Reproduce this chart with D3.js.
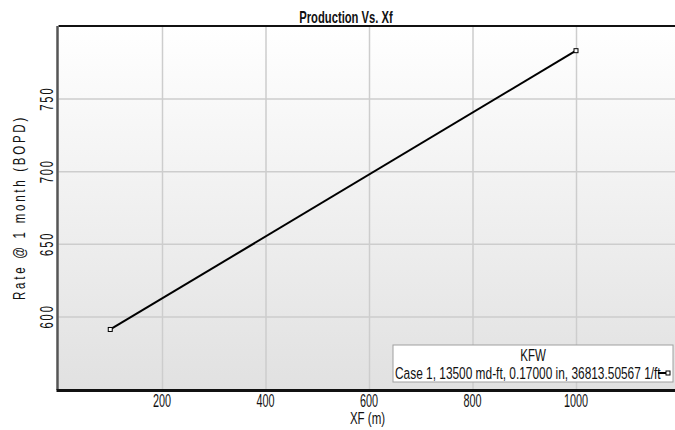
<!DOCTYPE html>
<html>
<head>
<meta charset="utf-8">
<script src="https://cdn.jsdelivr.net/npm/d3@7"></script>
<style>
  body { margin: 0; background: #fff; }
  svg { display: block; }
  text { font-family: "Liberation Sans", Arial, sans-serif; fill: #111; }
</style>
</head>
<body>
<div class="chart"></div>
<script>
var w = 675,
    h = 430;

// data
var xfValues = [100, 1000];
var rateValues = [591, 783];
var xTicks = [200, 400, 600, 800, 1000];
var yTicks = [600, 650, 700, 750];
var chartTitle = "Production Vs. Xf";
var xTitle = "XF (m)";
var yTitle = "Rate @ 1 month (BOPD)";
var legendTitle = "KFW";
var legendLabel = "Case 1, 13500 md-ft, 0.17000 in, 36813.50567 1/ft";

// note: "top" is taken by window.top, so plot edges get their own names
var plotLeft = 58.5, plotTop = 26, plotRight = 679.5, plotBottom = 389;

var x = d3.scaleLinear().domain([0, 1200]).range([plotLeft, plotRight]);
var y = d3.scaleLinear().domain([550, 800]).range([plotBottom, plotTop]);

var svg = d3.select("body").select(".chart").append("svg")
  .attr("width", w)
  .attr("height", h);

var grad = svg.append("defs").append("linearGradient")
  .attr("id", "bg")
  .attr("x1", 0).attr("y1", 0).attr("x2", 0).attr("y2", 1);
grad.append("stop").attr("offset", "0%").attr("stop-color", "#ffffff");
grad.append("stop").attr("offset", "100%").attr("stop-color", "#e1e1e1");

svg.append("rect")
  .attr("x", plotLeft)
  .attr("y", plotTop)
  .attr("width", plotRight - plotLeft)
  .attr("height", plotBottom - plotTop)
  .style("fill", "url(#bg)");

// grid
svg.append("g")
  .attr("transform", "translate(0," + plotBottom + ")")
  .call(d3.axisBottom(x).tickValues(xTicks).tickSize(-(plotBottom - plotTop)).tickFormat(""))
  .call(function(g) {
    g.select(".domain").remove();
    g.selectAll("line").style("stroke", "#cdcdcd").style("stroke-width", 1.5);
  });

svg.append("g")
  .attr("transform", "translate(" + plotLeft + ",0)")
  .call(d3.axisLeft(y).tickValues(yTicks).tickSize(-(plotRight - plotLeft)).tickFormat(""))
  .call(function(g) {
    g.select(".domain").remove();
    g.selectAll("line").style("stroke", "#cdcdcd").style("stroke-width", 1.5);
  });

// frame
svg.append("line")
  .attr("x1", plotLeft).attr("x2", w).attr("y1", plotTop).attr("y2", plotTop)
  .style("stroke", "#111").style("stroke-width", 2);
svg.append("line")
  .attr("x1", plotLeft - 1).attr("x2", plotLeft - 1).attr("y1", plotTop).attr("y2", plotBottom + 1)
  .style("stroke", "#555").style("stroke-width", 2.5);
svg.append("line")
  .attr("x1", plotLeft - 2).attr("x2", w).attr("y1", plotBottom + 1.5).attr("y2", plotBottom + 1.5)
  .style("stroke", "#111").style("stroke-width", 3);

// tick labels
svg.selectAll(".xlab")
  .data(xTicks)
  .enter()
  .append("text")
  .attr("class", "xlab")
  .attr("transform", function(d) { return "translate(" + x(d) + ",407) scale(0.62,1)"; })
  .attr("text-anchor", "middle")
  .style("font-size", "17.5px")
  .text(function(d) { return d; });

svg.selectAll(".ylab")
  .data(yTicks)
  .enter()
  .append("text")
  .attr("class", "ylab")
  .attr("transform", function(d) { return "translate(52.5," + y(d) + ") rotate(-90) scale(0.62,1)"; })
  .attr("text-anchor", "middle")
  .style("font-size", "18px")
  .style("letter-spacing", "3px")
  .text(function(d) { return d; });

// titles
svg.append("text")
  .attr("transform", "translate(346,22.5) scale(0.66,1)")
  .attr("text-anchor", "middle")
  .style("font-size", "17px")
  .style("font-weight", "bold")
  .text(chartTitle);

svg.append("text")
  .attr("transform", "translate(367.5,424) scale(0.72,1)")
  .attr("text-anchor", "middle")
  .style("font-size", "16px")
  .text(xTitle);

svg.append("text")
  .attr("transform", "translate(25," + ((plotTop + plotBottom) / 2) + ") rotate(-90) scale(0.68,1)")
  .attr("text-anchor", "middle")
  .style("font-size", "17px")
  .style("letter-spacing", "4px")
  .text(yTitle);

// series
var pts = xfValues.map(function(d, i) { return [d, rateValues[i]]; });

svg.append("path")
  .datum(pts)
  .attr("d", d3.line().x(function(d) { return x(d[0]); }).y(function(d) { return y(d[1]); }))
  .style("fill", "none")
  .style("stroke", "#000")
  .style("stroke-width", 2);

svg.selectAll(".pt")
  .data(pts)
  .enter()
  .append("rect")
  .attr("class", "pt")
  .attr("x", function(d) { return x(d[0]) - 2; })
  .attr("y", function(d) { return y(d[1]) - 2; })
  .attr("width", 4)
  .attr("height", 4)
  .style("fill", "#fff")
  .style("stroke", "#000")
  .style("stroke-width", 1);

// legend
var lg = svg.append("g").attr("transform", "translate(393,345)");
lg.append("rect")
  .attr("width", 280)
  .attr("height", 37)
  .style("fill", "#fff")
  .style("stroke", "#a0a0a0")
  .style("stroke-width", 1);
lg.append("text")
  .attr("transform", "translate(140,16) scale(0.72,1)")
  .attr("text-anchor", "middle")
  .style("font-size", "16px")
  .text(legendTitle);
lg.append("text")
  .attr("transform", "translate(2,34) scale(0.7,1)")
  .style("font-size", "17px")
  .text(legendLabel);
lg.append("line")
  .attr("x1", 265).attr("x2", 277).attr("y1", 28).attr("y2", 28)
  .style("stroke", "#000").style("stroke-width", 2);
lg.append("rect")
  .attr("x", 273).attr("y", 26).attr("width", 4).attr("height", 4)
  .style("fill", "#fff").style("stroke", "#000").style("stroke-width", 1);
</script>
</body>
</html>
